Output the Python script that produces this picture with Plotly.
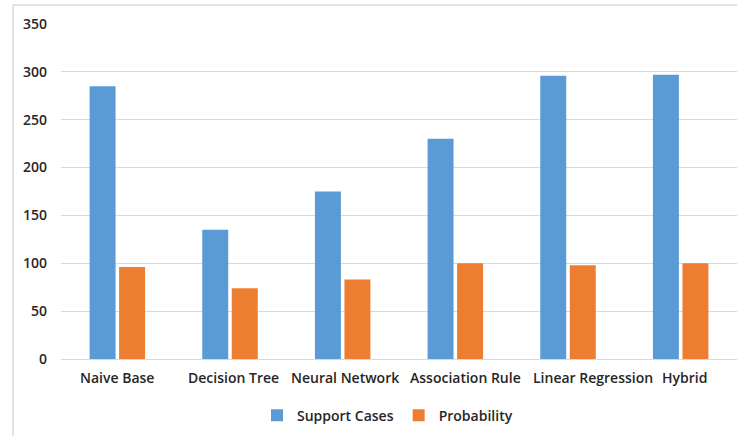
import plotly.graph_objects as go

# Categories and series values
methods = ["Naive Base", "Decision Tree", "Neural Network",
           "Association Rule", "Linear Regression", "Hybrid"]
support_cases = [285, 135, 175, 230, 296, 297]
probability = [96, 74, 83, 100, 98, 100]
y_ticks = [0, 50, 100, 150, 200, 250, 300, 350]

# horizontal nudges (px) for category labels so long names don't crowd
label_nudge = [0, 3, 2, 10, 25, 4]

BLUE = "#5B9BD5"
ORANGE = "#ED7D31"
TEXT = "#262626"
FONT = "Open Sans"

fig = go.Figure()
fig.add_trace(go.Bar(name="Support Cases", x=methods, y=support_cases,
                     marker=dict(color=BLUE, line=dict(width=0))))
fig.add_trace(go.Bar(name="Probability", x=methods, y=probability,
                     marker=dict(color=ORANGE, line=dict(width=0))))

# category labels under the axis
annotations = [
    dict(x=m, y=0, xref="x", yref="y", text=m, showarrow=False,
         yanchor="middle", yshift=-18, xshift=dx,
         font=dict(family=FONT, size=14, color=TEXT, weight=600))
    for m, dx in zip(methods, label_nudge)
]

fig.update_layout(
    width=737, height=436,
    margin=dict(l=61, r=0, t=24, b=77),
    paper_bgcolor="white", plot_bgcolor="white",
    barmode="group", bargap=0.476, bargroupgap=0.12,
    font=dict(family=FONT, size=13, color=TEXT, weight=600),
    showlegend=True,
    legend=dict(orientation="h", x=0.483, xanchor="center", y=-0.121,
                yanchor="top", font=dict(size=14, color=TEXT, weight=600),
                itemwidth=30, traceorder="normal"),
    xaxis=dict(showgrid=False, showline=False, ticks="",
               showticklabels=False),
    yaxis=dict(range=[0, 350], tickvals=y_ticks, showgrid=True,
               gridcolor="#D9D9D9", gridwidth=1, zeroline=True,
               zerolinecolor="#D9D9D9", zerolinewidth=1, showline=False,
               ticks="", ticklabelstandoff=13,
               tickfont=dict(size=14, color=TEXT, weight=600)),
    annotations=annotations,
    shapes=[
        # chart-area border (left and top edges)
        dict(type="line", xref="paper", yref="paper",
             x0=-48 / 676, x1=-48 / 676, y0=1 + 19 / 335, y1=-77 / 335,
             line=dict(color="#D9D9D9", width=1.5)),
        dict(type="line", xref="paper", yref="paper",
             x0=-48 / 676, x1=1.01, y0=1 + 19 / 335, y1=1 + 19 / 335,
             line=dict(color="#D9D9D9", width=1.5)),
    ],
)

fig.write_html("out.html")
